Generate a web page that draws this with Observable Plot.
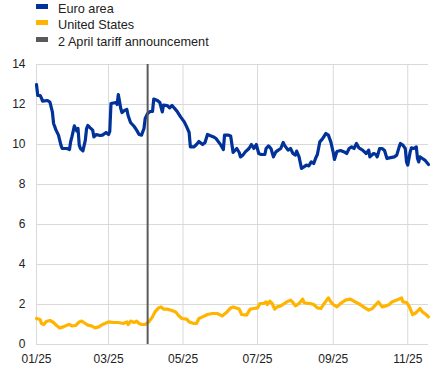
<!DOCTYPE html>
<html>
<head>
<meta charset="utf-8">
<script src="https://cdn.jsdelivr.net/npm/d3@7"></script>
<script src="https://cdn.jsdelivr.net/npm/@observablehq/plot@0.6"></script>
<style>
  html, body { margin: 0; padding: 0; background: #fff; }
  body { width: 437px; height: 372px; overflow: hidden; font-family: "Liberation Sans", Arial, sans-serif; }
  #legend { height: 46px; position: relative; font-size: 12.7px; color: #222; }
  .item { position: absolute; left: 36px; height: 15px; line-height: 15px; }
  .sw { position: absolute; left: 0; top: 2px; width: 12px; height: 5px; }
  .lb { position: absolute; left: 22px; top: 0; white-space: nowrap; }
</style>
</head>
<body>
<div id="legend"></div>
<div id="chart"></div>
<script>
// ---- data ----
const seriesNames = ["Euro area", "United States"];
const announcementLabel = "2 April tariff announcement";
const announcementDate = "2025-04-02";

const euroDates = ["2025-01-01","2025-01-02","2025-01-04","2025-01-05","2025-01-06","2025-01-10","2025-01-12","2025-01-14","2025-01-15","2025-01-17","2025-01-19","2025-01-21","2025-01-22","2025-01-26","2025-01-28","2025-01-29","2025-01-30","2025-02-01","2025-02-03","2025-02-04","2025-02-05","2025-02-06","2025-02-08","2025-02-10","2025-02-11","2025-02-12","2025-02-14","2025-02-16","2025-02-17","2025-02-19","2025-02-22","2025-02-24","2025-02-27","2025-03-01","2025-03-02","2025-03-03","2025-03-07","2025-03-08","2025-03-09","2025-03-11","2025-03-12","2025-03-14","2025-03-16","2025-03-17","2025-03-19","2025-03-22","2025-03-24","2025-03-26","2025-03-28","2025-03-30","2025-03-31","2025-04-02","2025-04-04","2025-04-06","2025-04-07","2025-04-10","2025-04-12","2025-04-14","2025-04-15","2025-04-18","2025-04-20","2025-04-22","2025-04-26","2025-04-29","2025-05-02","2025-05-04","2025-05-06","2025-05-07","2025-05-10","2025-05-12","2025-05-14","2025-05-17","2025-05-19","2025-05-21","2025-05-23","2025-05-26","2025-05-28","2025-06-01","2025-06-03","2025-06-04","2025-06-07","2025-06-09","2025-06-11","2025-06-14","2025-06-16","2025-06-17","2025-06-19","2025-06-21","2025-06-24","2025-06-26","2025-06-28","2025-06-30","2025-07-02","2025-07-04","2025-07-07","2025-07-08","2025-07-10","2025-07-12","2025-07-14","2025-07-16","2025-07-18","2025-07-20","2025-07-22","2025-07-23","2025-07-26","2025-07-28","2025-07-30","2025-08-01","2025-08-02","2025-08-04","2025-08-06","2025-08-08","2025-08-10","2025-08-12","2025-08-14","2025-08-16","2025-08-18","2025-08-19","2025-08-21","2025-08-23","2025-08-26","2025-08-28","2025-08-30","2025-09-01","2025-09-02","2025-09-04","2025-09-07","2025-09-10","2025-09-12","2025-09-14","2025-09-16","2025-09-18","2025-09-20","2025-09-22","2025-09-25","2025-09-28","2025-09-30","2025-10-01","2025-10-04","2025-10-06","2025-10-07","2025-10-09","2025-10-11","2025-10-13","2025-10-15","2025-10-17","2025-10-21","2025-10-23","2025-10-25","2025-10-26","2025-10-28","2025-10-30","2025-10-31","2025-11-01","2025-11-03","2025-11-04","2025-11-06","2025-11-08","2025-11-09","2025-11-10","2025-11-11","2025-11-13","2025-11-15","2025-11-18"];
const euroValues = [13.0,12.45,12.45,12.33,12.17,12.2,12.12,11.63,11.05,10.72,10.47,9.97,9.8,9.8,9.75,10.15,10.38,10.93,10.67,10.8,9.97,9.8,9.68,10.22,10.8,10.95,10.83,10.72,10.38,10.5,10.45,10.47,10.6,10.5,10.65,12.05,12.1,12.0,12.5,11.8,11.6,11.7,11.75,11.45,11.1,10.9,10.72,10.5,10.47,10.8,11.3,11.55,11.65,11.65,12.27,12.2,12.1,11.63,11.97,11.95,11.83,11.95,11.67,11.38,11.13,10.88,10.6,9.88,9.88,10.0,10.15,10.0,10.1,10.5,10.45,10.38,10.3,9.97,9.75,10.47,10.47,10.43,9.6,9.8,9.6,9.38,9.47,9.63,9.8,10.0,9.8,10.0,9.55,9.5,9.5,9.8,9.93,9.8,9.38,9.63,9.72,9.8,10.1,9.97,9.72,9.8,9.55,9.47,9.67,9.38,8.8,8.88,8.97,8.93,9.13,9.05,9.38,9.5,10.13,10.27,10.55,10.47,10.13,9.6,9.25,9.65,9.7,9.63,9.55,9.8,9.88,9.8,10.05,9.83,9.72,9.55,9.72,9.38,9.55,9.5,9.38,9.8,9.8,9.7,9.3,9.33,9.38,9.47,9.88,10.05,9.97,9.8,9.13,8.97,9.63,9.83,9.8,9.88,9.3,9.13,9.38,9.3,9.22,9.0];

const usDates = ["2025-01-01","2025-01-04","2025-01-05","2025-01-07","2025-01-09","2025-01-12","2025-01-15","2025-01-17","2025-01-20","2025-01-23","2025-01-26","2025-01-28","2025-01-30","2025-02-02","2025-02-05","2025-02-07","2025-02-10","2025-02-12","2025-02-15","2025-02-18","2025-02-21","2025-02-24","2025-02-26","2025-03-01","2025-03-05","2025-03-09","2025-03-13","2025-03-16","2025-03-17","2025-03-19","2025-03-22","2025-03-24","2025-03-26","2025-03-28","2025-03-31","2025-04-03","2025-04-06","2025-04-08","2025-04-11","2025-04-13","2025-04-15","2025-04-18","2025-04-22","2025-04-25","2025-04-27","2025-04-30","2025-05-04","2025-05-06","2025-05-10","2025-05-12","2025-05-14","2025-05-17","2025-05-21","2025-05-25","2025-05-29","2025-06-02","2025-06-06","2025-06-09","2025-06-11","2025-06-16","2025-06-18","2025-06-22","2025-06-25","2025-06-28","2025-07-01","2025-07-03","2025-07-06","2025-07-08","2025-07-09","2025-07-11","2025-07-13","2025-07-15","2025-07-17","2025-07-20","2025-07-23","2025-07-25","2025-07-28","2025-07-30","2025-08-01","2025-08-04","2025-08-07","2025-08-08","2025-08-11","2025-08-13","2025-08-16","2025-08-19","2025-08-22","2025-08-24","2025-08-28","2025-08-30","2025-09-01","2025-09-04","2025-09-07","2025-09-11","2025-09-15","2025-09-19","2025-09-23","2025-09-27","2025-09-30","2025-10-03","2025-10-06","2025-10-08","2025-10-11","2025-10-14","2025-10-17","2025-10-19","2025-10-23","2025-10-27","2025-10-28","2025-10-31","2025-11-02","2025-11-05","2025-11-07","2025-11-09","2025-11-11","2025-11-13","2025-11-16","2025-11-18"];
const usValues = [1.3,1.25,1.05,1.0,1.15,1.2,1.1,0.97,0.83,0.88,0.97,1.0,0.93,0.95,1.13,1.17,1.05,0.97,0.93,0.83,0.88,1.0,1.05,1.13,1.1,1.1,1.05,1.13,1.0,1.17,1.1,1.17,1.05,1.0,1.0,1.13,1.38,1.63,1.83,1.88,1.77,1.77,1.7,1.63,1.47,1.3,1.27,1.13,1.05,1.05,1.3,1.38,1.5,1.55,1.55,1.43,1.63,1.83,1.88,1.77,1.5,1.47,1.77,1.8,1.83,2.05,2.05,2.13,2.0,2.17,2.05,1.77,1.88,1.93,2.05,2.13,2.22,2.1,1.93,2.05,2.27,2.1,2.05,2.05,2.0,1.83,1.8,2.0,2.33,2.13,2.0,1.88,2.05,2.22,2.27,2.13,2.0,1.83,1.72,1.8,2.0,2.13,1.88,1.93,2.0,2.13,2.22,2.33,2.13,2.1,1.93,1.5,1.55,1.67,1.8,1.63,1.5,1.38];

const xTickDates = ["2025-01-01","2025-03-01","2025-05-01","2025-07-01","2025-09-01","2025-11-01"];
const xDomain = ["2025-01-01","2025-11-18"];
const yTicks = [0,2,4,6,8,10,12,14];

// ---- styles ----
const colors = {"Euro area": "#003299", "United States": "#FFB400", announcement: "#5a5a5a"};

// ---- build table ----
const rows = [];
euroDates.forEach((d, i) => rows.push({date: new Date(d), value: euroValues[i], series: seriesNames[0]}));
usDates.forEach((d, i) => rows.push({date: new Date(d), value: usValues[i], series: seriesNames[1]}));

// ---- legend ----
const legend = document.getElementById("legend");
[[seriesNames[0], colors["Euro area"]], [seriesNames[1], colors["United States"]], [announcementLabel, colors.announcement]]
  .forEach(([label, color], i) => {
    const it = document.createElement("div");
    it.className = "item";
    it.style.top = (2 + i * 16.25) + "px";
    it.innerHTML = `<span class="sw" style="background:${color}"></span><span class="lb">${label}</span>`;
    legend.appendChild(it);
  });

// ---- chart ----
const xTicks = xTickDates.map(d => new Date(d));
const chart = Plot.plot({
  width: 437,
  height: 326,
  marginTop: 18,
  marginBottom: 28,
  marginLeft: 36,
  marginRight: 9,
  style: {fontFamily: '"Liberation Sans", Arial, sans-serif', fontSize: "12px", color: "#222", background: "#fff"},
  x: {type: "utc", domain: xDomain.map(d => new Date(d)), label: null},
  y: {domain: [0, 14], label: null},
  color: {domain: seriesNames, range: [colors["Euro area"], colors["United States"]]},
  marks: [
    Plot.gridY(yTicks, {stroke: "#d9d9d9", strokeOpacity: 1, strokeWidth: 1}),
    Plot.gridX(xTicks, {stroke: "#d9d9d9", strokeOpacity: 1, strokeWidth: 1}),
    Plot.axisX({ticks: xTicks, tickFormat: d3.utcFormat("%m/%y"), tickSize: 0, tickPadding: 10, label: null}),
    Plot.axisY({ticks: yTicks, tickSize: 0, tickPadding: 11, label: null}),
    Plot.line(rows, {x: "date", y: "value", z: "series", stroke: "series", strokeWidth: 3.2, strokeLinejoin: "round", strokeLinecap: "round"}),
    Plot.ruleX([new Date(announcementDate)], {stroke: colors.announcement, strokeWidth: 2})
  ]
});
document.getElementById("chart").appendChild(chart);
</script>
</body>
</html>
